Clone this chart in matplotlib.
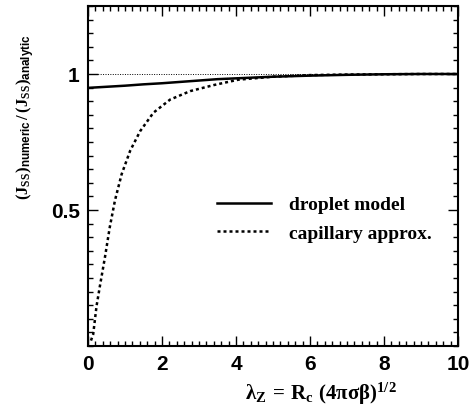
import matplotlib
matplotlib.use("Agg")
import matplotlib.pyplot as plt
import numpy as np

# Data
x_droplet = [0.0, 0.5, 1.0, 1.5, 2.0, 2.5, 3.0, 3.5, 4.0, 5.0, 6.0, 7.0, 8.0, 9.0, 10.0]
y_droplet = [0.949, 0.953, 0.957, 0.962, 0.966, 0.971, 0.976, 0.981, 0.984, 0.990, 0.994, 0.997, 0.999, 1.0, 1.0]

x_capillary = [0.08, 0.14, 0.23, 0.32, 0.46, 0.59, 0.73, 0.91, 1.14, 1.41, 1.77, 2.22, 2.76, 3.39, 4.06, 5.0, 6.0, 7.0, 8.0, 9.0, 10.0]
y_capillary = [0.02, 0.043, 0.146, 0.219, 0.328, 0.438, 0.536, 0.632, 0.718, 0.79, 0.858, 0.906, 0.937, 0.959, 0.979, 0.99, 0.996, 0.998, 0.999, 1.0, 1.0]

ref_x = [0, 10]
ref_y = [1, 1]

x_ticks = [0, 2, 4, 6, 8, 10]
y_ticks = [0.5, 1]
y_ticklabels = ["0.5", "1"]

plt.rcParams['mathtext.fontset'] = 'custom'
plt.rcParams['mathtext.rm'] = 'Liberation Serif:bold'
plt.rcParams['mathtext.it'] = 'Liberation Serif:bold'
plt.rcParams['mathtext.bf'] = 'Liberation Serif:bold'
plt.rcParams['mathtext.sf'] = 'Liberation Sans:bold'

W, H = 472, 414
fig = plt.figure(figsize=(W / 100, H / 100), dpi=100)
ax = fig.add_axes([88 / W, (H - 347) / H, (458 - 88) / W, (347 - 7) / H])

ax.plot(ref_x, ref_y, color='black', lw=0.7, ls=(0, (1, 1.5)))
ax.plot(x_droplet, y_droplet, color='black', lw=1.8, label='droplet model')
ax.plot(x_capillary, y_capillary, color='black', lw=1.8, ls=(0, (1.2, 1.2)), label='capillary approx.')

ax.set_xlim(0, 10)
ax.set_ylim(0.0, 1.25)
ax.set_xticks(x_ticks)
ax.set_xticklabels([str(v) for v in x_ticks])
ax.set_yticks(y_ticks)
ax.set_yticklabels(y_ticklabels)
ax.set_xticks(np.arange(0, 10.001, 0.2), minor=True)
ax.set_yticks(np.arange(0, 1.2501, 0.05), minor=True)

ax.tick_params(which='both', direction='in', top=True, right=True, width=1.0)
ax.tick_params(which='major', length=7, labelsize=15, pad=6)
ax.tick_params(which='minor', length=3.5)
for lab in ax.get_xticklabels() + ax.get_yticklabels():
    lab.set_fontfamily('Liberation Sans')
    lab.set_fontweight('bold')
for sp in ax.spines.values():
    sp.set_linewidth(1.5)

leg = ax.legend(loc='upper left', bbox_to_anchor=((209 - 88) / 370, (347 - 189) / 340),
                frameon=False, handlelength=2.8, handletextpad=0.9, labelspacing=0.55,
                borderaxespad=0.0,
                prop={'family': 'Liberation Serif', 'weight': 'bold', 'size': 14})

fig.text(26 / W, 1 - 117 / H,
         r'$\mathrm{(J_{SS})_{\mathsf{numeric}}\,/\,(J_{SS})_{\mathsf{analytic}}}$',
         rotation=90, ha='center', va='center', fontsize=12)
fig.text(321 / W, 1 - 394 / H,
         r'$\mathrm{\lambda_{Z}\,{=}\,R_{c}\ (4\pi\sigma\beta)^{1/2}}$',
         ha='center', va='center', fontsize=15)

fig.savefig('out.png', dpi=100)
